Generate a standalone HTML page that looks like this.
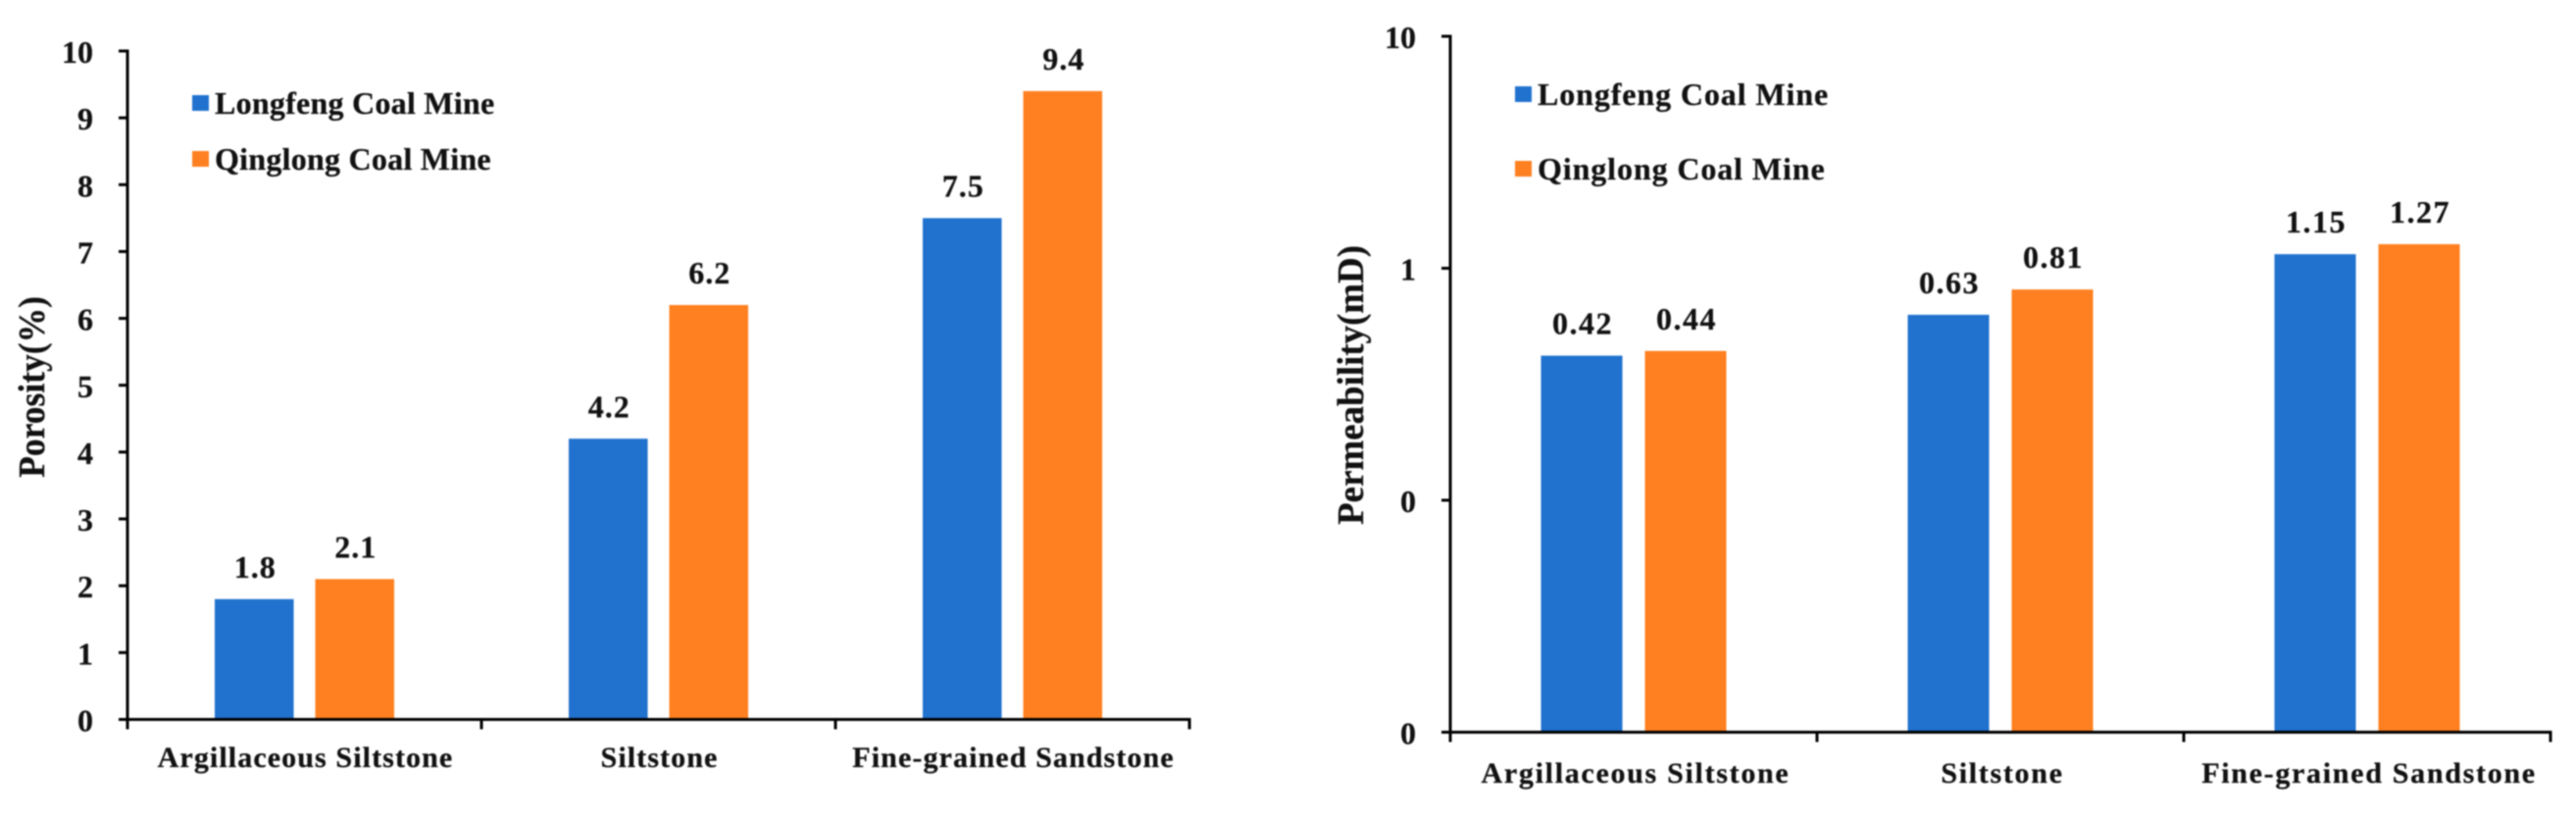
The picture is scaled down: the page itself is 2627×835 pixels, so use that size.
<!DOCTYPE html>
<html lang="en">
<head>
<meta charset="utf-8">
<title>Porosity and permeability by lithology</title>
<style>
html,body{margin:0;padding:0;background:#fff;}
svg{display:block;filter:blur(0.7px);}
text{font-family:"Liberation Serif",serif;font-weight:bold;fill:#111;stroke:#111;stroke-width:0.25px;}
</style>
</head>
<body>
<svg id="figure" xmlns="http://www.w3.org/2000/svg" width="2627" height="835" viewBox="0 0 2627 835"></svg>
<script>
const categories = ["Argillaceous Siltstone", "Siltstone", "Fine-grained Sandstone"];
const seriesNames = ["Longfeng Coal Mine", "Qinglong Coal Mine"];
const porosityLongfeng = [1.8, 4.2, 7.5];
const porosityQinglong = [2.1, 6.2, 9.4];
const permeabilityLongfeng = [0.42, 0.63, 1.15];
const permeabilityQinglong = [0.44, 0.81, 1.27];
const porosityTicks = [0, 1, 2, 3, 4, 5, 6, 7, 8, 9, 10];
const permeabilityTicks = [0.01, 0.1, 1, 10];
const permeabilityTickLabels = ["0", "0", "1", "10"];

const NS = "http://www.w3.org/2000/svg";
const COLORS = ["#2072CE", "#FF8020"];
const root = document.getElementById("figure");

function make(parent, tag, attrs, text) {
  const el = document.createElementNS(NS, tag);
  for (const k in attrs) el.setAttribute(k, attrs[k]);
  if (text !== undefined) el.textContent = text;
  parent.appendChild(el);
  return el;
}

function drawChart(cfg) {
  const g = make(root, "g", {});
  
  

  const band = (cfg.x1 - cfg.x0) / categories.length;
  const xCenter = i => cfg.x0 + band * (i + 0.5);

  // bars
  cfg.series.forEach((vals, s) => {
    vals.forEach((v, i) => {
      const left = xCenter(i) + (s === 0 ? -cfg.gap / 2 - cfg.barW : cfg.gap / 2);
      const top = cfg.y(v);
      const bar = make(g, "rect", {x: left, y: top, width: cfg.barW, height: cfg.yBase - top, fill: COLORS[s]});
      
      
      const label = make(g, "text", {x: left + cfg.barW / 2 + 1, y: top - 22, "text-anchor": "middle", "font-size": 32, "letter-spacing": cfg.valueSpacing}, String(v));
      
      
    });
  });

  // axes
  const yAxis = make(g, "line", {x1: cfg.x0, x2: cfg.x0, y1: cfg.y(cfg.ticks[cfg.ticks.length - 1]) - 1.5, y2: cfg.yBase + 10, stroke: "#000", "stroke-width": 3});
  
  
  const xAxis = make(g, "line", {x1: cfg.x0 - 9, x2: cfg.x1 + 1.5, y1: cfg.yBase, y2: cfg.yBase, stroke: "#000", "stroke-width": 3});
  
  

  // y ticks and labels
  cfg.ticks.forEach((t, i) => {
    const y = cfg.y(t);
    const tick = make(g, "line", {x1: cfg.x0 - 9, x2: cfg.x0, y1: y, y2: y, stroke: "#000", "stroke-width": 3});
    
    
    const lab = make(g, "text", {x: cfg.x0 - 35, y: y + 12, "text-anchor": "end", "font-size": 32}, cfg.tickLabels[i]);
    
    
  });

  // x ticks and category labels
  for (let i = 1; i <= categories.length; i++) {
    const x = cfg.x0 + band * i;
    const tick = make(g, "line", {x1: x, x2: x, y1: cfg.yBase, y2: cfg.yBase + 10, stroke: "#000", "stroke-width": 3});
    
    
  }
  categories.forEach((c, i) => {
    const lab = make(g, "text", {x: xCenter(i) + cfg.catShift, y: cfg.catY, "text-anchor": "middle", "font-size": 30, "letter-spacing": cfg.catSpacing}, c);
    
    
  });

  // y-axis title
  const title = make(g, "text", {
    x: 0, y: 0, "text-anchor": "middle", "font-size": 38,
    textLength: cfg.titleLength, lengthAdjust: "spacingAndGlyphs",
    transform: "translate(" + cfg.titleX + " " + cfg.titleY + ") rotate(-90)"
  }, cfg.title);
  
  

  // legend
  seriesNames.forEach((n, s) => {
    const sw = make(g, "rect", {x: cfg.legX, y: cfg.legY[s], width: 17, height: 16, fill: COLORS[s]});
    
    
    const lt = make(g, "text", {x: cfg.legX + 23, y: cfg.legY[s] + 19, "font-size": 32, "letter-spacing": cfg.legSpacing}, n);
    
    
  });
}

// left chart: linear axis
const leftBase = 733.5, leftTop = 52;
drawChart({
  name: "porosity-chart",
  x0: 130, x1: 1213, yBase: leftBase,
  barW: 80.5, gap: 22,
  y: v => leftBase - (v / 10) * (leftBase - leftTop),
  ticks: porosityTicks,
  tickLabels: porosityTicks.map(String),
  series: [porosityLongfeng, porosityQinglong],
  valueSpacing: 1, catSpacing: 1.1, catShift: 1, legSpacing: 0.25,
  catY: 782,
  title: "Porosity(%)", titleX: 45, titleY: 394.5, titleLength: 185,
  legX: 196, legY: [97, 154]
});

// right chart: log axis
const rightBase = 746.5, rightDecade = 236.5;
drawChart({
  name: "permeability-chart",
  x0: 1479, x1: 2601, yBase: rightBase,
  barW: 83, gap: 23,
  y: v => rightBase - (Math.log10(v) + 2) * rightDecade,
  ticks: permeabilityTicks,
  tickLabels: permeabilityTickLabels,
  series: [permeabilityLongfeng, permeabilityQinglong],
  valueSpacing: 1.5, catSpacing: 1.7, catShift: 2, legSpacing: 0.9,
  catY: 798,
  title: "Permeability(mD)", titleX: 1390, titleY: 392.5, titleLength: 285,
  legX: 1545, legY: [88, 164]
});
</script>
</body>
</html>
